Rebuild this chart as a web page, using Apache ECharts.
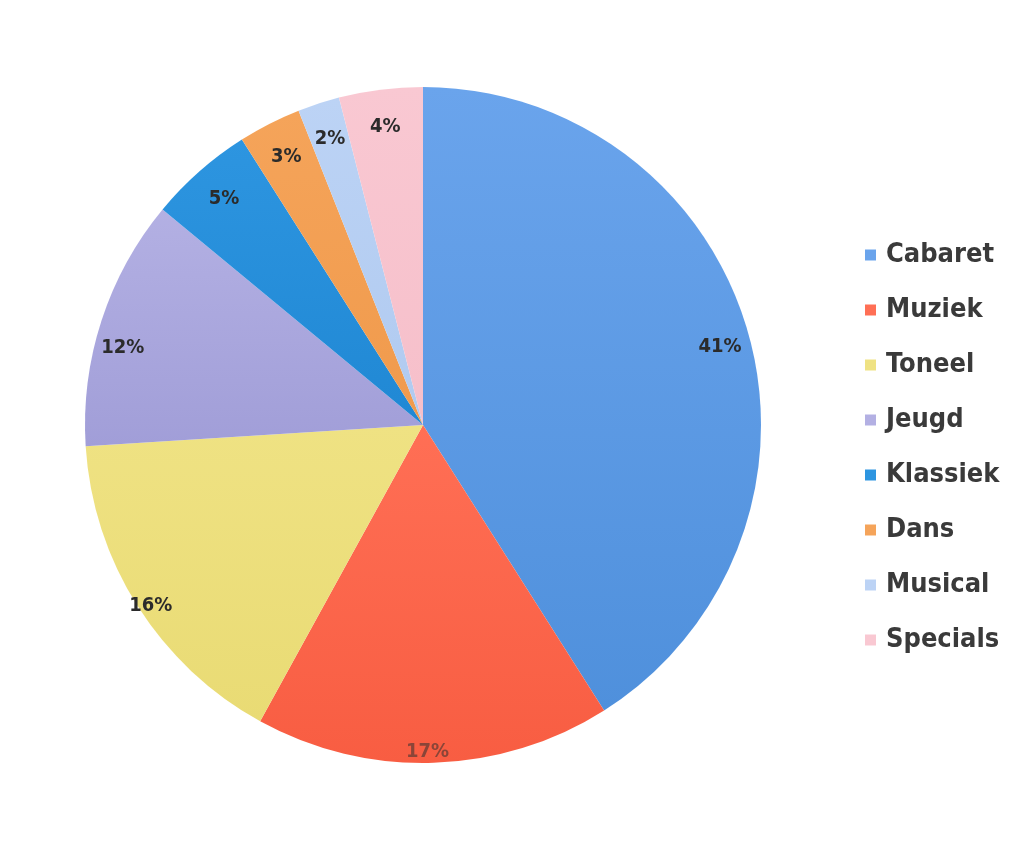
<!DOCTYPE html>
<html>
<head>
<meta charset="utf-8">
<script src="https://cdn.jsdelivr.net/npm/echarts@6/dist/echarts.min.js"></script>
<style>
html,body{margin:0;padding:0;background:#fff;}
#chart{width:1015px;height:863px;}
</style>
</head>
<body>
<div id="chart"></div>
<script>
var categories = ['Cabaret','Muziek','Toneel','Jeugd','Klassiek','Dans','Musical','Specials'];
var values = [41,17,16,12,5,3,2,4];
var colors = ['#6aa4ec','#ff6f55','#efe283','#b3b0e3','#2d95e0','#f5a45a','#bcd3f5','#f9c8d2'];
var shadeColors = ['#4f90dc','#f85d42','#e9db74','#a19ed8','#2088d4','#f09a4c','#b0caf0','#f6bfca'];

var chart = echarts.init(document.getElementById('chart'));
var R = 338;
var center = [423, 425];
var mainData = categories.map(function(c,i){
  return {name:c, value:values[i], itemStyle:{color:{
    type:'linear', x:0, y:0, x2:0, y2:1,
    colorStops:[{offset:0,color:colors[i]},{offset:1,color:shadeColors[i]}]
  }}};
});
var labelTweaks = {
  Muziek:{color:'#8a4538', offset:[-5,26]},
  Toneel:{offset:[-18,20]},
  Jeugd:{offset:[-14,16]},
  Cabaret:{offset:[8,6]}
};
var labelData = categories.map(function(c,i){
  var d = {name:c, value:values[i]};
  if (labelTweaks[c]) d.label = labelTweaks[c];
  return d;
});
var labelFont = "'DejaVu Sans Condensed',sans-serif";
chart.setOption({
  animation:false,
  backgroundColor:'#ffffff',
  legend:{
    orient:'vertical',
    left:860,
    top:232,
    icon:'rect',
    itemWidth:11,
    itemHeight:11,
    itemGap:19,
    data:categories.map(function(c,i){return {name:c, itemStyle:{color:colors[i]}};}),
    textStyle:{
      fontFamily:labelFont,
      fontWeight:'bold',
      fontSize:27,
      lineHeight:36,
      color:'#3a3a3a',
      padding:[0,0,0,5]
    }
  },
  series:[
    {
      type:'pie',
      center:center,
      radius:[0,R],
      startAngle:90,
      clockwise:true,
      silent:true,
      label:{show:false},
      labelLine:{show:false},
      itemStyle:{borderWidth:0},
      data:mainData
    },
    {
      type:'pie',
      center:center,
      radius:[R-76,R-4],
      startAngle:90,
      clockwise:true,
      silent:true,
      legendHoverLink:false,
      itemStyle:{color:'rgba(0,0,0,0)',borderWidth:0},
      label:{
        show:true,
        position:'inside',
        formatter:'{c}%',
        fontFamily:labelFont,
        fontWeight:'bold',
        fontSize:20,
        color:'#2b2b2b'
      },
      labelLine:{show:false},
      data:labelData
    }
  ]
});
</script>
</body>
</html>
